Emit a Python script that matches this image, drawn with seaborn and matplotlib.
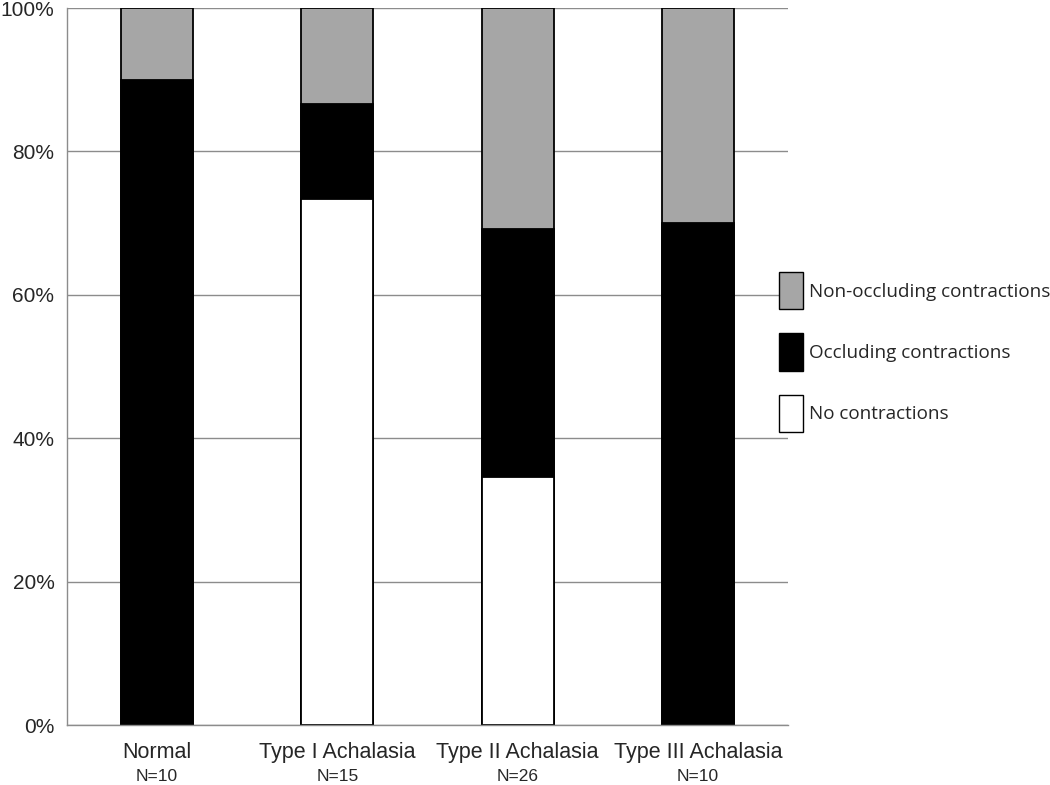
import pandas as pd
import numpy as np
import matplotlib.pyplot as plt
import matplotlib.transforms as mtransforms
from matplotlib.patches import Patch
import seaborn as sns

# data (percent of swallows per group)
groups = ['Normal', 'Type I Achalasia', 'Type II Achalasia', 'Type III Achalasia']
n_labels = ['N=10', 'N=15', 'N=26', 'N=10']
no_contr = [0.0, 73.3, 34.6, 0.0]
occluding = [90.0, 13.3, 34.6, 70.0]
non_occluding = [10.0, 13.4, 30.8, 30.0]

df = pd.DataFrame({'group': groups, 'no': no_contr, 'occ': occluding, 'non': non_occluding})
df['top_occ'] = df['no'] + df['occ']
df['top_all'] = df['top_occ'] + df['non']

sns.set_style('white')
plt.rcParams['font.family'] = ['Liberation Sans', 'DejaVu Sans']

fig = plt.figure(figsize=(10.5, 7.85), dpi=100)
ax = fig.add_axes([0.0638, 0.0764, 0.6867, 0.9134])

bar_kw = dict(edgecolor='black', linewidth=1.3, width=0.4, ax=ax, order=groups)
sns.barplot(data=df, x='group', y='top_all', color='#a6a6a6', **bar_kw)
sns.barplot(data=df, x='group', y='top_occ', color='black', **bar_kw)
sns.barplot(data=df, x='group', y='no', color='white', **bar_kw)
for p in ax.patches:
    p.set_facecolor(p.get_facecolor()[:3] + (1,))

ax.set_ylim(0, 100)
ax.set_xlim(-0.5, 3.5)
ax.set_yticks(np.arange(0, 101, 20))
ax.set_yticklabels([f'{v}%' for v in range(0, 101, 20)], fontsize=15)
ax.yaxis.grid(True, color='#8c8c8c', linewidth=1.0)
ax.set_axisbelow(True)
ax.set_xlabel('')
ax.set_ylabel('')

for s in ['top', 'right']:
    ax.spines[s].set_visible(False)
for s in ['left', 'bottom']:
    ax.spines[s].set_color('#8c8c8c')
    ax.spines[s].set_linewidth(1.0)

# category boundary ticks on x axis
ax.set_xticks([-0.5, 0.5, 1.5, 2.5, 3.5])
ax.set_xticklabels([])
ax.tick_params(axis='x', direction='out', length=7, color='#8c8c8c', width=1)
ax.tick_params(axis='y', direction='out', length=6, color='#8c8c8c', width=1, pad=3)

trans = mtransforms.blended_transform_factory(ax.transData, ax.transAxes)
for i, (g, n) in enumerate(zip(groups, n_labels)):
    ax.text(i, -0.024, g, transform=trans, ha='center', va='top', fontsize=15.5)
    ax.text(i, -0.061, n, transform=trans, ha='center', va='top', fontsize=12.5)

handles = [Patch(facecolor='#a6a6a6', edgecolor='black', label='Non-occluding contractions'),
           Patch(facecolor='black', edgecolor='black', label='Occluding contractions'),
           Patch(facecolor='white', edgecolor='black', label='No contractions')]
fig.legend(handles=handles, loc='center left', bbox_to_anchor=(0.742, 0.5516),
           bbox_transform=fig.transFigure, frameon=False,
           prop={'family': 'Open Sans', 'size': 13.6}, handlelength=1.27, handleheight=2.65,
           labelspacing=1.27, handletextpad=0.32, borderaxespad=0, borderpad=0)

fig.savefig('out.png', dpi=100)
